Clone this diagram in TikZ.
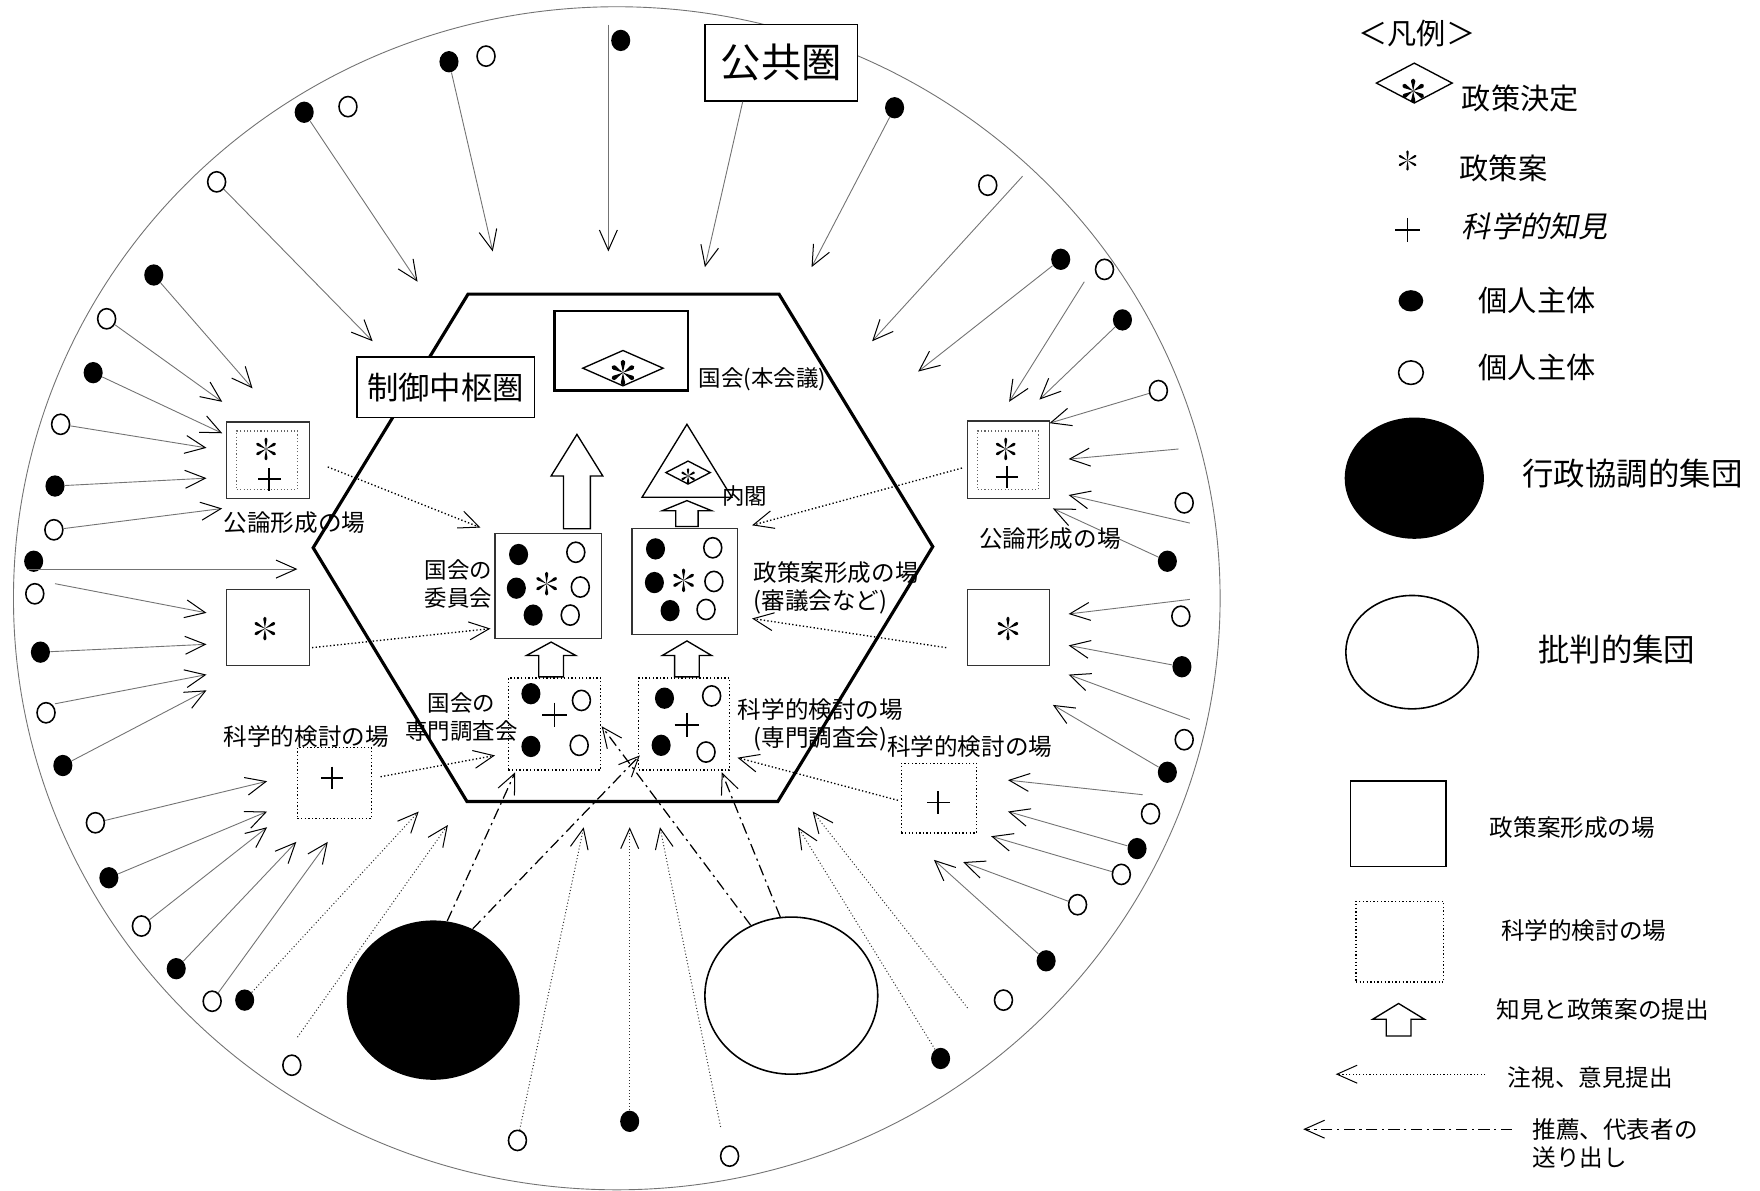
\documentclass[tikz,border=0pt]{standalone}
\usepackage{fontspec}
\setmainfont{Noto Sans CJK JP}
\newfontfamily\jpit{Noto Sans CJK JP}[FakeSlant=0.2]
\usetikzlibrary{arrows.meta,shapes.geometric,calc}
\tikzset{
 ringline/.style={draw=black!55, line width=0.4pt},
 garrow/.style={draw=black!55, line width=0.4pt, -{Straight Barb[length=9pt,width=8pt,line width=0.45pt,color=black]}},
 garrowd/.style={draw=black!80, densely dotted, line width=0.45pt, -{Straight Barb[length=9pt,width=8pt,line width=0.45pt,color=black]}},
 darrow/.style={draw=black, densely dotted, line width=0.6pt, -{Straight Barb[length=9pt,width=8pt,line width=0.45pt]}},
 ddarrow/.style={draw=black, dash pattern=on 5pt off 2pt on 1pt off 2pt, line width=0.55pt, -{Straight Barb[length=9pt,width=8pt,line width=0.45pt]}},
 bdot/.style={ellipse, fill=black, minimum width=8.5pt, minimum height=9.5pt, inner sep=0},
 wdot/.style={ellipse, draw=black, fill=white, line width=0.7pt, minimum width=8pt, minimum height=9pt, inner sep=0},
 pbox/.style={draw=black!80, line width=0.6pt, inner sep=0},
 sbox/.style={draw=black, densely dotted, line width=0.6pt, inner sep=0},
 blk/.style={draw=black, line width=0.6pt, fill=white},
 t10/.style={inner sep=0, font=\fontsize{10}{12.5}\selectfont},
 t105/.style={inner sep=0, font=\fontsize{10.5}{12.5}\selectfont},
 t13/.style={inner sep=0, font=\fontsize{13}{15}\selectfont},
 t14/.style={inner sep=0, font=\fontsize{14}{17}\selectfont},
 pics/ast/.style={code={\foreach \a in {90,30,-30,-90,-150,150}{\fill (0,0) -- ({\a+9}:6) .. controls ({\a+14}:12.5) and ({\a-14}:12.5) .. ({\a-9}:6) -- cycle;}}},
 pics/bast/.style={code={\foreach \a in {90,30,-30,-90,-150,150}{\fill (0,0) -- ({\a+12}:6) .. controls ({\a+18}:12.5) and ({\a-18}:12.5) .. ({\a-12}:6) -- cycle;}}},
 pics/pls/.style={code={\draw[line width=0.8pt] (-10,0) -- (10,0) (0,-10) -- (0,10);}},
}
\newcommand{\blkarrow}[6]{\draw[blk] ({#1-#6},#4) -- ({#1-#6},#3) -- ({#1-#5},#3) -- (#1,#2) -- ({#1+#5},#3) -- ({#1+#6},#3) -- ({#1+#6},#4) -- cycle;}
\begin{document}
\begin{tikzpicture}[x=0.5pt,y=-0.5pt]
\useasboundingbox (0,0) rectangle (1568,1061);
% public sphere ring
\draw[ringline] (549.5,533) ellipse [x radius=537.5, y radius=527];
\node[draw, fill=white, line width=0.7pt, minimum width=68pt, minimum height=34pt, inner sep=0, font=\fontsize{18}{20}\selectfont] (kokyo) at (696,56) {公共圏};
% ring dots
\foreach \x/\y/\t [count=\n] in {400/55/bdot, 433/50/wdot, 553/36/bdot, 271/100/bdot, 310/95/wdot, 193/162/wdot, 137/245/bdot, 95/284/wdot, 83/332/bdot, 54/378/wdot, 49/433/bdot, 48/472/wdot, 30/500/bdot, 31/529/wdot, 36/581/bdot, 41/635/wdot, 56/682/bdot, 85/733/wdot, 97/782/bdot, 126/825/wdot, 157/863/bdot, 189/892/wdot, 218/891/bdot, 260/949/wdot, 461/1016/wdot, 561/999/bdot, 650/1030/wdot, 797/96/bdot, 880/165/wdot, 945/231/bdot, 984/240/wdot, 1000/285/bdot, 1032/348/wdot, 1055/448/wdot, 1040/500/bdot, 1052/549/wdot, 1053/594/bdot, 1055/659/wdot, 1040/688/bdot, 1025/725/wdot, 1013/756/bdot, 999/779/wdot, 960/806/wdot, 932/856/bdot, 894/891/wdot, 838/943/bdot}
  \node[\t] (d\n) at (\x,\y) {};
% free starts
\coordinate (f1) at (542,22);
\coordinate (f2) at (24,507);
\coordinate (f3) at (49,520);
\coordinate (f4) at (49,627);
\coordinate (f5) at (265,924);
\coordinate (f6) at (642,1004);
\coordinate (f7) at (862,898);
\coordinate (f8) at ($(kokyo.south west)!0.25!(kokyo.south east)$);
\coordinate (f9) at (911,157);
\coordinate (f10) at (966,251);
\coordinate (f11) at (1050,400);
\coordinate (f12) at (1060,466);
\coordinate (f13) at (1060,534);
\coordinate (f14) at (1060,641);
\coordinate (f15) at (1018,708);
% ring arrows
\foreach \s/\x/\y [count=\i] in {d1/439/224, f1/542/224, d4/372/251, d6/332/304, d7/225/346, d8/198/358, d9/198/386, d10/184/399, d11/184/426, d12/198/453, f2/265/507, f3/184/546, d15/184/574, f4/184/601, d17/184/615, d18/238/696, d19/238/723, d20/238/737, d21/264/750, d22/292/750, f8/628/238, d28/723/238, f9/777/304, d30/818/331, f10/899/358, d32/926/356, d33/935/377, f11/952/409, f12/952/441, d35/938/453, f13/952/547, d37/952/575, f14/952/601, d39/938/628, f15/898/695, d41/898/723, d42/883/745, d43/858/768, d44/832/766}
  {\coordinate (ge\i) at (\x,\y); \draw[garrow] (\s) -- (ge\i);}
\foreach \s/\x/\y [count=\i] in {d23/373/723, f5/399/735, d25/520/737, d26/561/737, f6/588/737, d46/711/737, f7/724/723}
  {\coordinate (gd\i) at (\x,\y); \draw[garrowd] (\s) -- (gd\i);}
% control core hexagon
\draw[line width=1.4pt] (417,262) -- (694,262) -- (831,487) -- (693,714) -- (416,714) -- (279,488) -- cycle;
\node[draw, fill=white, line width=0.7pt, minimum width=79pt, minimum height=27pt, inner sep=0, font=\fontsize{14}{16}\selectfont] (seigyo) at (397,345) {制御中枢圏};
% Diet plenary
\node[pbox, draw=black, line width=1.2pt, minimum width=59.5pt, minimum height=35.5pt] (honkai) at (553.5,312.5) {};
\node[diamond, draw, line width=0.6pt, minimum width=36pt, minimum height=16pt, inner sep=0] (hkd) at (555,328) {};
\pic[scale=1.1] at (555,332) {bast};
\node[t10, anchor=west] (thk) at (622,338) {国会(本会議)};
% cabinet
\coordinate (tri1) at (612,378); \coordinate (tri2) at (652,443); \coordinate (tri3) at (572,443);
\draw[line width=0.6pt] (tri1) -- (tri2) -- (tri3) -- cycle;
\node[diamond, draw, line width=0.6pt, minimum width=20pt, minimum height=10.5pt, inner sep=0] (nkd) at (613,421) {};
\pic[scale=0.65] at (613,424) {bast};
\node[t10, anchor=west] (tnai) at (643,442) {内閣};
% block arrows
\blkarrow{514}{387}{424}{471}{23}{12}
\blkarrow{612}{446}{455}{469}{22}{10}
\blkarrow{491}{572}{584}{603}{22}{11}
\blkarrow{612}{571}{584}{603}{22}{11}
% committee
\node[pbox, minimum width=47.5pt, minimum height=47pt] (iinkai) at (488.5,522) {};
\foreach \x/\y/\t [count=\n] in {462/494/bdot, 460/524/bdot, 475/548/bdot, 513/492/wdot, 517/523/wdot, 508/548/wdot}
  \node[\t] (c\n) at (\x,\y) {};
\pic[scale=1.0] at (487,520) {ast};
\node[t10, align=right, anchor=east] (tiin) at (439,520) {国会の\\委員会};
% policy formation
\node[pbox, minimum width=47pt, minimum height=47pt] (seisaku) at (610,518) {};
\foreach \x/\y/\t [count=\n] in {584/489/bdot, 583/519/bdot, 597/544/bdot, 635/488/wdot, 636/518/wdot, 629/543/wdot}
  \node[\t] (p\n) at (\x,\y) {};
\pic[scale=1.0] at (609,517) {ast};
\node[t105, align=left, anchor=west] (tsei) at (671,523.5) {政策案形成の場\\(審議会など)};
% Diet research
\node[sbox, minimum width=41pt, minimum height=41pt] (senmon) at (494,645) {};
\foreach \x/\y/\t [count=\n] in {473/618/bdot, 473/665/bdot, 518/624/wdot, 516/664/wdot}
  \node[\t] (s\n) at (\x,\y) {};
\pic[scale=1.1] at (494,637) {pls};
\node[t10, align=center] (tsen) at (411,638.5) {国会の\\専門調査会};
% scientific review
\node[sbox, minimum width=40.5pt, minimum height=41pt] (kagaku) at (609.5,645) {};
\foreach \x/\y/\t [count=\n] in {592/622/bdot, 589/664/bdot, 634/620/wdot, 629/670/wdot}
  \node[\t] (q\n) at (\x,\y) {};
\pic[scale=1.1] at (612,646) {pls};
\node[t105, align=left, anchor=west] (tkag) at (657,645.5) {科学的検討の場\\\hspace{7pt}(専門調査会)};
% left side places
\node[pbox, minimum width=37pt, minimum height=34pt] (kl) at (239,410) {};
\node[sbox, draw=black!60, line width=0.5pt, minimum width=27pt, minimum height=26pt] (kli) at (238,410) {};
\pic[scale=0.95] at (237,400) {ast};
\pic at (240,427) {pls};
\node[t105, anchor=west] (tkl) at (199,466) {公論形成の場};
\node[pbox, minimum width=37pt, minimum height=34pt] (ksl) at (239,559) {};
\pic[scale=1.0] at (236,560) {ast};
\node[t105, anchor=west] (tkgl) at (199,656) {科学的検討の場};
\node[sbox, minimum width=33pt, minimum height=31.5pt] (kpl) at (298,697.5) {};
\pic at (296,693) {pls};
% right side places
\node[pbox, minimum width=36.5pt, minimum height=34.5pt] (kr) at (898.5,409.5) {};
\node[sbox, draw=black!60, line width=0.5pt, minimum width=27pt, minimum height=26pt] (kri) at (898,410) {};
\pic[scale=0.95] at (896,400) {ast};
\pic at (897,425) {pls};
\node[t105, anchor=west] (tkr) at (872,480) {公論形成の場};
\node[pbox, minimum width=36.5pt, minimum height=34pt] (ksr) at (898.5,559) {};
\pic[scale=1.0] at (898,560) {ast};
\node[t105, anchor=west] (tkgr) at (790,665) {科学的検討の場};
\node[sbox, minimum width=33.5pt, minimum height=31pt] (kpr) at (836.5,711) {};
\pic at (836,715) {pls};
% dotted arrows into the core
\foreach \sx/\sy/\ex/\ey [count=\i] in {292/416/428/470, 278/577/437/560, 339/692/441/673, 857/417/670/468, 843/577/670/551, 800/713/657/675}
  {\coordinate (cs\i) at (\sx,\sy); \coordinate (ce\i) at (\ex,\ey); \draw[darrow] (cs\i) -- (ce\i);}
% groups
\node[ellipse, fill=black, minimum width=77pt, minimum height=71pt, inner sep=0] (bk) at (386,891) {};
\node[ellipse, draw, line width=0.7pt, fill=white, minimum width=77pt, minimum height=70pt, inner sep=0] (wt) at (705,887) {};
\coordinate (k1) at (459,688); \coordinate (k2) at (570,673); \coordinate (k3) at (536,647); \coordinate (k4) at (643,688);
\draw[ddarrow] (bk.80) -- (k1);
\draw[ddarrow] (bk.61) -- (k2);
\draw[ddarrow] (wt.120) -- (k3);
\draw[ddarrow] (wt.98) -- (k4);
% legend
\node[t13, anchor=west] (lgt) at (1210,30) {＜凡例＞};
\node[diamond, draw, line width=0.6pt, minimum width=34pt, minimum height=18pt, inner sep=0] (lgd) at (1260,74) {};
\pic[scale=1.05] at (1259,81) {bast};
\node[t13, anchor=west] (lgt1) at (1302,88) {政策決定};
\pic[scale=0.85] at (1254,143) {ast};
\node[t13, anchor=west] (lgt2) at (1300,150) {政策案};
\pic[scale=1.1] at (1254,205) {pls};
\node[t13, anchor=west] (lgt3) at (1302,202) {\jpit 科学的知見};
\node[bdot, minimum width=11pt, minimum height=9.5pt] (lgb) at (1257,268) {};
\node[t13, anchor=west] (lgt4) at (1317,268) {個人主体};
\node[wdot, minimum width=11pt, minimum height=10.5pt] (lgw) at (1257,332) {};
\node[t13, anchor=west] (lgt5) at (1317,327) {個人主体};
\node[ellipse, fill=black, minimum width=62pt, minimum height=54pt, inner sep=0] (lgbk) at (1260,426) {};
\node[t14, anchor=west] (lgt6) at (1356,422) {行政協調的集団};
\node[ellipse, draw, line width=0.7pt, minimum width=59pt, minimum height=50.5pt, inner sep=0] (lgwt) at (1258,581) {};
\node[t14, anchor=west] (lgt7) at (1370,579) {批判的集団};
\node[pbox, draw=black, line width=0.7pt, minimum width=42.5pt, minimum height=38pt] (lgp) at (1245.5,734) {};
\node[t105, anchor=west] (lgt8) at (1327,737) {政策案形成の場};
\node[sbox, minimum width=39pt, minimum height=36pt] (lgs) at (1247,839) {};
\node[t105, anchor=west] (lgt9) at (1337,829) {科学的検討の場};
\blkarrow{1246}{894}{908}{923}{23}{11}
\node[t105, anchor=west] (lgt10) at (1333,899) {知見と政策案の提出};
\coordinate (lga1) at (1323,957); \coordinate (lga2) at (1190,957);
\draw[darrow, line width=0.5pt] (lga1) -- (lga2);
\node[t105, anchor=west] (lgt11) at (1343,960) {注視、意見提出};
\coordinate (lgb1) at (1347,1006); \coordinate (lgb2) at (1161,1006);
\draw[ddarrow] (lgb1) -- (lgb2);
\node[t105, anchor=west, align=left] (lgt12) at (1365,1018.5) {推薦、代表者の\\送り出し};
\end{tikzpicture}
\end{document}
